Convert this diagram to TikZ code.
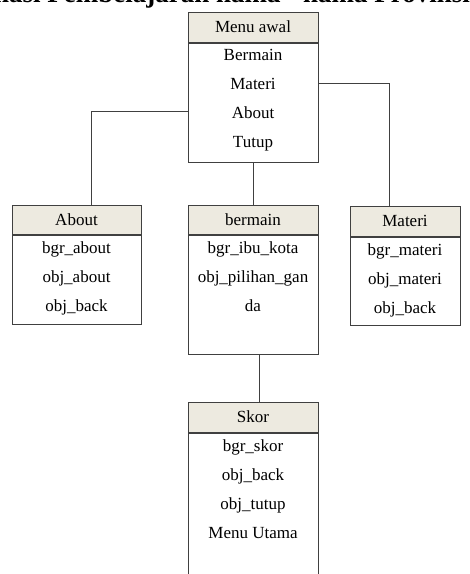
\documentclass[tikz,border=0pt]{standalone}
\usepackage{fontspec}
\setmainfont{Liberation Serif}
\usetikzlibrary{positioning}
\definecolor{headfill}{HTML}{EDEAE0}

\begin{document}
\begin{tikzpicture}[x=1pt,y=-1pt,
  head/.style={rectangle,draw=black!75,fill=headfill,line width=1pt,minimum height=30pt,
               inner sep=0pt,font=\fontsize{17}{29}\selectfont},
  body/.style={rectangle,draw=black!75,fill=white,line width=1pt,inner sep=0pt},
  items/.style={anchor=north,align=center,inner sep=0pt,font=\fontsize{17}{29}\selectfont},
  conn/.style={draw=black!75,line width=1pt}
]
\useasboundingbox (0,0) rectangle (470,574);
\node[anchor=base,font=\bfseries\fontsize{27}{30}\selectfont] (title) at (232,2) {nasi Pembelajaran nama - nama Provinsi};
% menu awal
\node[head,minimum width=130pt] (menuH) at (253,27) {Menu awal};
\node[body,minimum width=130pt,minimum height=119pt,below=0pt of menuH] (menuB) {};
\node[items] (menuT) at ([yshift=-7pt]menuB.north) {Bermain\\Materi\\About\\Tutup};
% about
\node[head,minimum width=129pt,minimum height=29pt] (aboutH) at (76.5,219.5) {About};
\node[body,minimum width=129pt,minimum height=89pt,below=0pt of aboutH] (aboutB) {};
\node[items] (aboutT) at ([yshift=-6.5pt]aboutB.north) {bgr\_about\\obj\_about\\obj\_back};
% bermain
\node[head,minimum width=130pt,minimum height=29pt] (bermainH) at (253,219.5) {bermain};
\node[body,minimum width=130pt,minimum height=119pt,below=0pt of bermainH] (bermainB) {};
\node[items] (bermainT) at ([yshift=-6.5pt]bermainB.north) {bgr\_ibu\_kota\\obj\_pilihan\_gan\\da};
% materi
\node[head,minimum width=110pt] (materiH) at (405,221) {Materi};
\node[body,minimum width=110pt,minimum height=88pt,below=0pt of materiH] (materiB) {};
\node[items] (materiT) at ([yshift=-6.5pt]materiB.north) {bgr\_materi\\obj\_materi\\obj\_back};
% skor
\node[head,minimum width=130pt] (skorH) at (253,417) {Skor};
\node[body,minimum width=130pt,minimum height=170pt,below=0pt of skorH] (skorB) {};
\node[items] (skorT) at ([yshift=-6.5pt]skorB.north) {bgr\_skor\\obj\_back\\obj\_tutup\\Menu Utama};
% garis penghubung
\draw[conn] ([yshift=-8.5pt]menuB.west) -| ([xshift=14.5pt]aboutH.north);
\draw[conn] ([yshift=19.5pt]menuB.east) -| ([xshift=-16pt]materiH.north);
\draw[conn] (menuB.south) -- (menuB.south |- bermainH.north);
\draw[conn] ([xshift=6pt]bermainB.south) -- ([xshift=6pt]bermainB.south |- skorH.north);
\end{tikzpicture}
\end{document}
